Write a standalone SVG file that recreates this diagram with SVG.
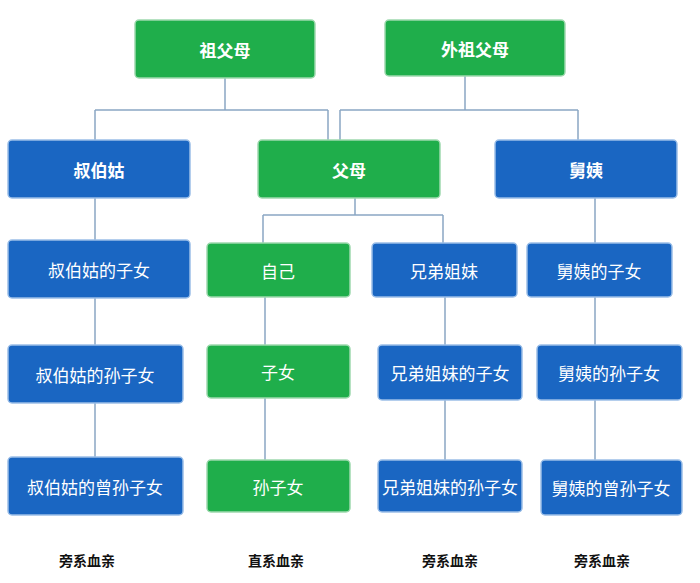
<svg xmlns="http://www.w3.org/2000/svg" width="700" height="583" viewBox="0 0 700 583">
<style>
.g{fill:#1fae4b;stroke:#9ed9ae;stroke-width:1.5}
.b{fill:#1a66c2;stroke:#9cbfe8;stroke-width:1.5}
text{font-family:"Noto Sans CJK SC",sans-serif;fill:#fff;text-anchor:middle;dominant-baseline:central;font-size:17px}
.h{font-weight:bold}
.l{fill:#111;font-weight:bold;font-size:14px}
#conn path{fill:none;stroke:#8aa6c4;stroke-width:1.5}
</style>
<rect width="700" height="583" fill="#fff"/>
<g id="conn">
<path d="M225 78V110M95 110H328M95 110V140M328 110V140"/>
<path d="M465 76V110M340 110H578M340 110V140M578 110V140"/>
<path d="M355 198V215M263 215H443M263 215V243M443 215V243"/>
<path d="M95 198V457M265 297V460M445 297V460M595 198V460"/>
</g>
<g id="n1"><rect class="g" x="135" y="20" width="180" height="58" rx="4"/><text class="h" x="225" y="49">祖父母</text></g>
<g id="n2"><rect class="g" x="385" y="20" width="180" height="56" rx="4"/><text class="h" x="475" y="48">外祖父母</text></g>
<g id="n3"><rect class="b" x="8" y="140" width="182" height="58" rx="4"/><text class="h" x="99" y="169">叔伯姑</text></g>
<g id="n4"><rect class="g" x="258" y="140" width="182" height="58" rx="4"/><text class="h" x="349" y="169">父母</text></g>
<g id="n5"><rect class="b" x="495" y="140" width="182" height="58" rx="4"/><text class="h" x="586" y="169">舅姨</text></g>
<g id="n6"><rect class="b" x="8" y="240" width="182" height="58" rx="4"/><text x="99" y="269">叔伯姑的子女</text></g>
<g id="n7"><rect class="g" x="207" y="243" width="143" height="54" rx="4"/><text x="278" y="270">自己</text></g>
<g id="n8"><rect class="b" x="372" y="243" width="145" height="54" rx="4"/><text x="444" y="270">兄弟姐妹</text></g>
<g id="n9"><rect class="b" x="527" y="243" width="145" height="54" rx="4"/><text x="599" y="270">舅姨的子女</text></g>
<g id="n10"><rect class="b" x="8" y="345" width="175" height="58" rx="4"/><text x="95" y="374">叔伯姑的孙子女</text></g>
<g id="n11"><rect class="g" x="207" y="345" width="143" height="53" rx="4"/><text x="278" y="371">子女</text></g>
<g id="n12"><rect class="b" x="378" y="345" width="144" height="55" rx="4"/><text x="450" y="372">兄弟姐妹的子女</text></g>
<g id="n13"><rect class="b" x="537" y="345" width="145" height="55" rx="4"/><text x="609" y="372">舅姨的孙子女</text></g>
<g id="n14"><rect class="b" x="8" y="457" width="175" height="58" rx="4"/><text x="95" y="486">叔伯姑的曾孙子女</text></g>
<g id="n15"><rect class="g" x="207" y="460" width="143" height="52" rx="4"/><text x="278" y="486">孙子女</text></g>
<g id="n16"><rect class="b" x="378" y="460" width="144" height="52" rx="4"/><text x="450" y="486">兄弟姐妹的孙子女</text></g>
<g id="n17"><rect class="b" x="541" y="460" width="141" height="55" rx="4"/><text x="611" y="487">舅姨的曾孙子女</text></g>
<text class="l" x="87" y="560">旁系血亲</text>
<text class="l" x="276" y="560">直系血亲</text>
<text class="l" x="450" y="560">旁系血亲</text>
<text class="l" x="602" y="560">旁系血亲</text>
</svg>
